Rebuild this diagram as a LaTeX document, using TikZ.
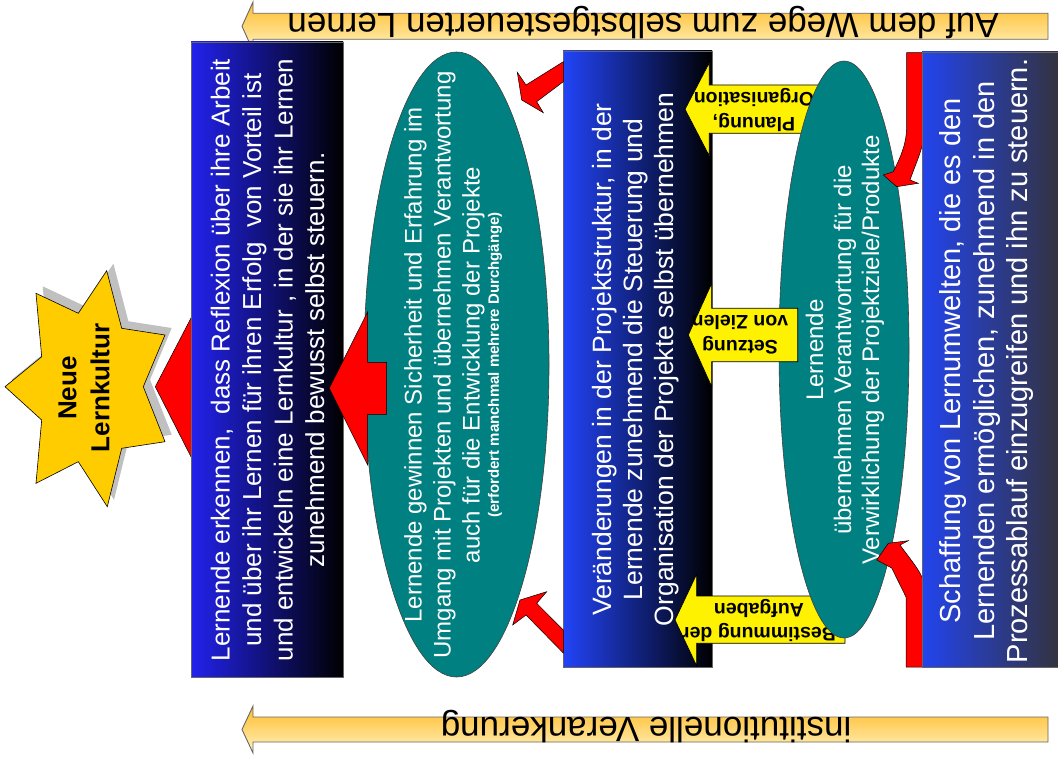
\documentclass[tikz,border=0pt]{standalone}
\usepackage{fontspec}
\setmainfont{Liberation Sans}
\usetikzlibrary{shapes.geometric}
\definecolor{tealfill}{HTML}{008080}
\definecolor{goldtop}{HTML}{FFBC2A}
\definecolor{goldbot}{HTML}{FFF2C0}
\definecolor{starfill}{HTML}{FFCC00}
\definecolor{starshadow}{HTML}{C0C0C0}
\definecolor{blueA}{HTML}{2222EE}
\definecolor{blueB}{HTML}{2244F8}
\definecolor{blueC}{HTML}{2244EE}
\definecolor{grayC}{HTML}{333340}
\tikzset{
  goldarrow/.style={draw=black!60, line width=0.9pt, top color=goldtop, bottom color=goldbot},
  redshape/.style={fill=red, draw=black, line width=0.5pt},
  yellowarrow/.style={fill=yellow, draw=black, line width=0.7pt},
  bluebox/.style={rectangle, draw=black!60, line width=0.8pt, inner sep=0pt},
  tealellipse/.style={ellipse, fill=tealfill, draw=black!75, line width=0.6pt, inner sep=0pt},
  boxtext/.style={rotate=90, text=white, align=center},
  labeltext/.style={rotate=180, align=center, font=\bfseries\fontsize{19.5}{25}\selectfont},
  bandtext/.style={rotate=180, anchor=base, font=\fontsize{35}{40}\selectfont},
}
\begin{document}
\begin{tikzpicture}[x=1pt,y=-1pt]
\useasboundingbox[fill=white] (0,0) rectangle (1058,765);

% top and bottom bands
\path[goldarrow] (242,26.3) -- (253,2) -- (253,13.3) -- (1048,13.3) -- (1048,39.3) -- (253,39.3) -- (253,50.6) -- cycle;
\node[bandtext] (toptext) at (643,13.5) {Auf dem Wege zum selbstgesteuerten Lernen};
\path[goldarrow] (242,729.5) -- (253,706) -- (253,717) -- (1048,717) -- (1048,742) -- (253,742) -- (253,753) -- cycle;
\node[bandtext] (bottext) at (646,717) {institutionelle Verankerung};

% star
\fill[starshadow, shift={(6.7,-7)}] (106.7,270.7) -- (78.3,313.3) -- (36,293.3) -- (41.7,356.7) -- (5,386.7) -- (41.7,420) -- (36,483.3) -- (78.3,461.7) -- (107.3,506.7) -- (121.7,448.3) -- (165,441.7) -- (143.3,386.7) -- (165,335) -- (121.7,328.3) -- cycle;
\draw[fill=starfill, draw=black, line width=0.6pt] (106.7,270.7) -- (78.3,313.3) -- (36,293.3) -- (41.7,356.7) -- (5,386.7) -- (41.7,420) -- (36,483.3) -- (78.3,461.7) -- (107.3,506.7) -- (121.7,448.3) -- (165,441.7) -- (143.3,386.7) -- (165,335) -- (121.7,328.3) -- cycle;
\node[rotate=90, align=center, font=\bfseries\fontsize{26}{33}\selectfont] (startext) at (84,388) {Neue\\Lernkultur};

% red triangle to star
\path[redshape] (155.3,386.7) -- (194.3,311.7) -- (194.3,463.3) -- cycle;

% box 1
\node[bluebox, minimum width=152pt, minimum height=635pt, left color=blueA, right color=black] (b1) at (267,359.5) {};
\node[boxtext, font=\fontsize{26}{31.5}\selectfont] (t1) at (267.5,360) {Lernende erkennen,~ dass Reflexion über ihre Arbeit\\und über ihr Lernen für ihren Erfolg~ von Vorteil ist\\und entwickeln eine Lernkultur , in der sie ihr Lernen\\zunehmend bewusst selbst steuern.};

% ellipse 1
\node[tealellipse, minimum width=185pt, minimum height=625pt] (e1) at (456.5,364.5) {};
\node[boxtext, font=\fontsize{24}{29}\selectfont] (te1) at (444.5,365) {Lernende gewinnen Sicherheit und Erfahrung im\\Umgang mit Projekten und übernehmen Verantwortung\\auch für die Entwicklung der Projekte};
\node[boxtext, font=\bfseries\fontsize{15}{18}\selectfont] (te1b) at (495,365) {(erfordert manchmal mehrere Durchgänge)};

% red block arrow ellipse1 -> box1
\path[redshape] (329.3,388.3) -- (367.7,311.7) -- (367.7,362.3) -- (386.7,362.3) -- (386.7,414.3) -- (367.7,414.3) -- (367.7,465) -- cycle;

% box 2
\node[bluebox, minimum width=149pt, minimum height=616pt, left color=blueB, right color=black] (b2) at (637.5,359) {};
\node[boxtext, font=\fontsize{26.5}{31}\selectfont] (t2) at (636,359.5) {Veränderungen in der Projektstruktur, in der\\Lernende zunehmend die Steuerung und\\Organisation der Projekte selbst übernehmen};

% red arrows box2 -> ellipse1
\path[redshape] (563.3,61.7) -- (526,85) -- (517.3,72.3) -- (521.7,100) -- (543.3,112.7) -- (536.7,101.7) -- (563.3,81.7) -- cycle;
\path[redshape] (563.3,630) -- (536.7,603.3) -- (546.7,591.7) -- (520,600) -- (512.7,625) -- (526,615) -- (563.3,653) -- cycle;

% yellow arrows (under ellipse 2)
\path[yellowarrow] (685,109.3) -- (709.3,62.7) -- (709.3,85) -- (822,85) -- (822,133.3) -- (709.3,133.3) -- (709.3,156) -- cycle;
\node[labeltext] (lab1) at (754,110) {Planung,\\Organisation};
\path[yellowarrow] (675,620) -- (696.7,574) -- (696.7,596) -- (845,596) -- (845,643.3) -- (696.7,643.3) -- (696.7,666) -- cycle;
\node[labeltext, font=\bfseries\fontsize{19.5}{24}\selectfont] (lab3) at (759,620) {Bestimmung der\\Aufgaben};

% ellipse 2
\node[tealellipse, minimum width=130pt, minimum height=577pt] (e2) at (844,349.5) {};

\path[yellowarrow] (688.3,335) -- (711.7,283.3) -- (711.7,308.3) -- (797.7,308.3) -- (797.7,361.7) -- (711.7,361.7) -- (711.7,386.7) -- cycle;
\node[labeltext] (lab2) at (740,335) {Setzung\\von Zielen};

\node[boxtext, font=\fontsize{24}{28}\selectfont] (te2) at (845,350) {Lernende\\übernehmen Verantwortung für die\\Verwirklichung der Projektziele/Produkte};

% red arrows box3 -> ellipse2
\path[redshape] (906.7,52.7) -- (906.7,125) .. controls (906.7,145) and (900,158) .. (893.3,171.7) -- (883.3,175) -- (896.7,186.7) -- (918.3,183.3) -- (910,180) .. controls (917,160) and (925,145) .. (925,125) -- (925,52.7) -- cycle;
\path[redshape] (906,667) -- (906,597) -- (891.7,568) -- (876.7,560) -- (888.3,543.3) -- (908.3,540.7) -- (900,545) .. controls (912,562) and (925,575) .. (925,590) -- (925,667) -- cycle;

% box 3
\node[bluebox, minimum width=136pt, minimum height=615pt, left color=blueC, right color=grayC] (b3) at (990,359.5) {};
\node[boxtext, font=\fontsize{29}{33.5}\selectfont] (t3) at (986.5,361) {Schaffung von Lernumwelten, die es den\\Lernenden ermöglichen, zunehmend in den\\Prozessablauf einzugreifen und ihn zu steuern.};

\end{tikzpicture}
\end{document}
